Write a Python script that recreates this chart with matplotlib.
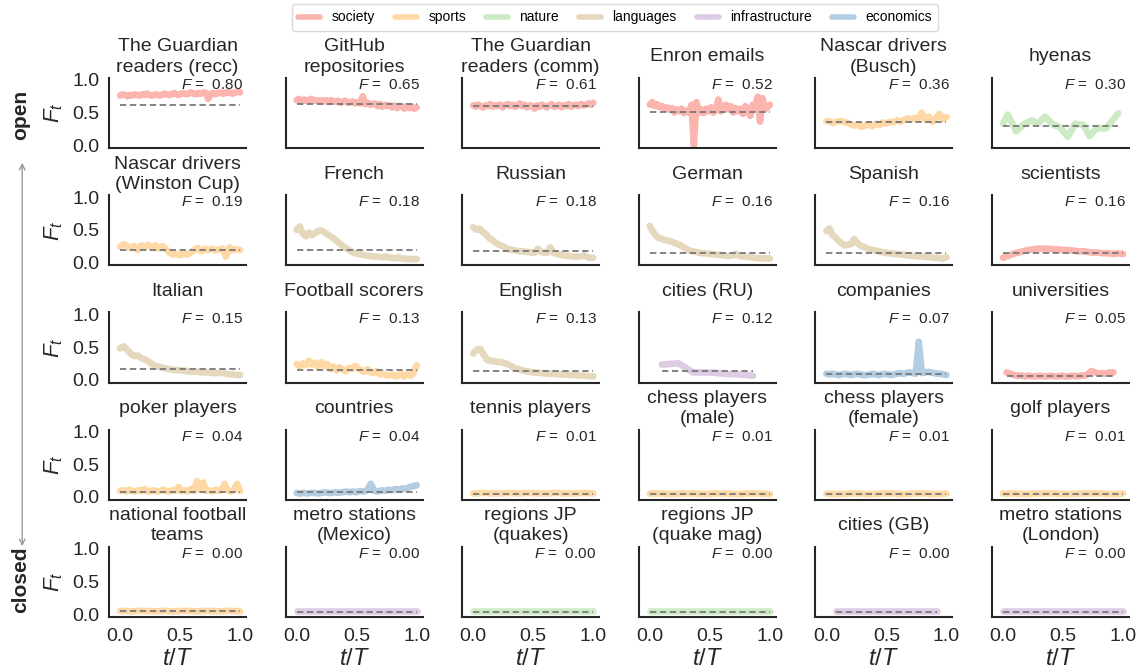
import numpy as np
import matplotlib
matplotlib.use("Agg")
import matplotlib.pyplot as plt
from matplotlib.lines import Line2D

plt.rcParams['font.family'] = ['Liberation Sans', 'DejaVu Sans']
plt.rcParams['mathtext.fontset'] = 'custom'
plt.rcParams['mathtext.rm'] = 'Liberation Sans'
plt.rcParams['mathtext.it'] = 'Liberation Sans:italic'
plt.rcParams['mathtext.bf'] = 'Liberation Sans:bold'

# category colours (Pastel1)
cat_names = ['society', 'sports', 'nature', 'languages', 'infrastructure', 'economics']
cat_colors = {'society': '#fbb4ae', 'sports': '#fed9a6', 'nature': '#ccebc5',
              'languages': '#e5d8bd', 'infrastructure': '#decbe4', 'economics': '#b3cde3'}

# ---- data ----
guardian_recc = [0.76, 0.78, 0.77, 0.75, 0.77, 0.76, 0.78, 0.77, 0.76, 0.78, 0.77, 0.79, 0.77, 0.76, 0.77,
                 0.78, 0.76, 0.77, 0.79, 0.78, 0.77, 0.78, 0.80, 0.78, 0.77, 0.79, 0.80, 0.78, 0.79, 0.81,
                 0.79, 0.78, 0.80, 0.79, 0.81, 0.80, 0.71, 0.79, 0.80, 0.78, 0.80, 0.81, 0.79, 0.80, 0.82,
                 0.80, 0.79, 0.81, 0.82, 0.81]
github = [0.69, 0.71, 0.67, 0.70, 0.68, 0.69, 0.71, 0.68, 0.69, 0.67, 0.69, 0.67, 0.69, 0.66, 0.69, 0.67,
          0.67, 0.68, 0.65, 0.67, 0.68, 0.65, 0.66, 0.67, 0.64, 0.66, 0.64, 0.75, 0.63, 0.65, 0.62, 0.63,
          0.64, 0.60, 0.63, 0.59, 0.62, 0.60, 0.61, 0.58, 0.61, 0.57, 0.60, 0.59, 0.56, 0.60, 0.57, 0.59,
          0.56, 0.58]
guardian_comm = [0.61, 0.59, 0.62, 0.60, 0.58, 0.61, 0.60, 0.63, 0.59, 0.61, 0.60, 0.62, 0.58, 0.61, 0.63,
                 0.60, 0.62, 0.59, 0.61, 0.64, 0.60, 0.62, 0.58, 0.61, 0.60, 0.56, 0.61, 0.59, 0.62, 0.60,
                 0.58, 0.61, 0.63, 0.59, 0.60, 0.62, 0.58, 0.61, 0.60, 0.63, 0.59, 0.61, 0.62, 0.60, 0.63,
                 0.61, 0.62, 0.64, 0.62, 0.65]
enron = [0.62, 0.66, 0.60, 0.63, 0.58, 0.60, 0.56, 0.58, 0.54, 0.57, 0.50, 0.55, 0.52, 0.56, 0.49, 0.53,
         0.50, 0.62, 0.00, 0.66, 0.50, 0.55, 0.49, 0.56, 0.52, 0.58, 0.50, 0.55, 0.70, 0.52, 0.58, 0.62,
         0.55, 0.60, 0.50, 0.57, 0.52, 0.56, 0.48, 0.60, 0.54, 0.45, 0.62, 0.58, 0.74, 0.36, 0.72, 0.55,
         0.58, 0.62]
busch = [0.37, 0.36, 0.34, 0.36, 0.37, 0.36, 0.34, 0.32, 0.30, 0.31, 0.28, 0.30, 0.32, 0.29, 0.33, 0.31,
         0.35, 0.33, 0.36, 0.35, 0.38, 0.36, 0.39, 0.41, 0.39, 0.42, 0.40, 0.50, 0.39, 0.44, 0.36, 0.41,
         0.48, 0.40, 0.43]
hyenas_t = [0.00, 0.04, 0.11, 0.18, 0.24, 0.29, 0.35, 0.42, 0.47, 0.54, 0.60, 0.67, 0.72, 0.78, 0.86, 0.96]
hyenas = [0.33, 0.47, 0.21, 0.33, 0.38, 0.33, 0.44, 0.31, 0.28, 0.13, 0.33, 0.31, 0.14, 0.26, 0.26, 0.49]

winston = [0.24, 0.28, 0.25, 0.22, 0.25, 0.19, 0.26, 0.23, 0.27, 0.22, 0.26, 0.21, 0.25, 0.20, 0.15, 0.12,
           0.13, 0.11, 0.13, 0.12, 0.15, 0.19, 0.22, 0.17, 0.21, 0.19, 0.21, 0.18, 0.20, 0.21, 0.09, 0.23,
           0.19, 0.20, 0.19]
french = [0.50, 0.55, 0.44, 0.40, 0.46, 0.42, 0.45, 0.48, 0.49, 0.46, 0.43, 0.40, 0.37, 0.33, 0.29, 0.25,
          0.22, 0.19, 0.16, 0.14, 0.13, 0.12, 0.11, 0.10, 0.10, 0.09, 0.09, 0.08, 0.08, 0.09, 0.07, 0.07,
          0.06, 0.08, 0.06, 0.06, 0.05, 0.05, 0.05, 0.05]
russian = [0.54, 0.50, 0.52, 0.47, 0.44, 0.38, 0.35, 0.31, 0.28, 0.26, 0.24, 0.21, 0.20, 0.19, 0.18, 0.17,
           0.17, 0.16, 0.16, 0.15, 0.15, 0.21, 0.16, 0.15, 0.15, 0.23, 0.15, 0.13, 0.12, 0.11, 0.10, 0.10,
           0.09, 0.09, 0.09, 0.09, 0.11, 0.08, 0.07, 0.07]
german = [0.56, 0.47, 0.41, 0.37, 0.36, 0.34, 0.33, 0.32, 0.30, 0.28, 0.26, 0.23, 0.20, 0.18, 0.17, 0.16,
          0.15, 0.14, 0.14, 0.13, 0.13, 0.12, 0.12, 0.11, 0.11, 0.10, 0.10, 0.11, 0.13, 0.10, 0.09, 0.09,
          0.08, 0.08, 0.07, 0.07, 0.06, 0.06, 0.06, 0.06]
spanish = [0.48, 0.52, 0.42, 0.38, 0.33, 0.29, 0.26, 0.27, 0.28, 0.36, 0.30, 0.26, 0.24, 0.22, 0.20, 0.19,
           0.18, 0.17, 0.16, 0.15, 0.14, 0.14, 0.13, 0.13, 0.12, 0.12, 0.11, 0.11, 0.10, 0.10, 0.09, 0.09,
           0.09, 0.08, 0.08, 0.07, 0.07, 0.06, 0.06, 0.08]
scientists = [0.07, 0.10, 0.13, 0.15, 0.17, 0.19, 0.20, 0.21, 0.21, 0.21, 0.20, 0.20, 0.19, 0.19, 0.18,
              0.17, 0.17, 0.16, 0.15, 0.15, 0.14, 0.14, 0.13, 0.14, 0.13]

italian = [0.48, 0.51, 0.46, 0.40, 0.36, 0.37, 0.33, 0.31, 0.28, 0.24, 0.21, 0.20, 0.18, 0.17, 0.16, 0.15,
           0.15, 0.14, 0.14, 0.13, 0.12, 0.12, 0.12, 0.11, 0.11, 0.11, 0.10, 0.10, 0.10, 0.11, 0.09, 0.08,
           0.08, 0.07, 0.07]
football = [0.24, 0.20, 0.25, 0.22, 0.29, 0.23, 0.26, 0.19, 0.27, 0.21, 0.24, 0.16, 0.20, 0.14, 0.19, 0.15,
            0.13, 0.18, 0.16, 0.21, 0.17, 0.14, 0.12, 0.16, 0.11, 0.10, 0.13, 0.08, 0.09, 0.07, 0.06, 0.08,
            0.05, 0.06, 0.09, 0.05, 0.08, 0.06, 0.10, 0.22]
english = [0.40, 0.46, 0.47, 0.38, 0.30, 0.29, 0.28, 0.27, 0.27, 0.25, 0.23, 0.20, 0.17, 0.16, 0.14, 0.13,
           0.12, 0.11, 0.11, 0.10, 0.10, 0.09, 0.09, 0.09, 0.08, 0.08, 0.08, 0.07, 0.07, 0.07, 0.06, 0.06,
           0.06, 0.05, 0.05]
cities_ru_t = [0.10, 0.24, 0.36, 0.50, 0.62, 0.74, 0.86]
cities_ru = [0.23, 0.25, 0.11, 0.11, 0.09, 0.08, 0.06]
companies = [0.09, 0.08, 0.09, 0.08, 0.07, 0.08, 0.09, 0.08, 0.07, 0.08, 0.09, 0.08, 0.07, 0.07, 0.08,
             0.09, 0.08, 0.07, 0.08, 0.09, 0.08, 0.07, 0.08, 0.09, 0.10, 0.09, 0.10, 0.11, 0.10, 0.09,
             0.58, 0.10, 0.11, 0.12, 0.11, 0.10, 0.09, 0.09, 0.08, 0.07]
universities = [0.11, 0.09, 0.07, 0.06, 0.06, 0.05, 0.06, 0.05, 0.05, 0.06, 0.05, 0.05, 0.06, 0.05, 0.05,
                0.06, 0.05, 0.05, 0.06, 0.05, 0.06, 0.06, 0.08, 0.13, 0.11, 0.09, 0.10, 0.09, 0.11, 0.11]

poker = [0.09, 0.10, 0.08, 0.11, 0.09, 0.08, 0.10, 0.09, 0.12, 0.08, 0.09, 0.10, 0.08, 0.09, 0.11, 0.09,
         0.08, 0.10, 0.09, 0.15, 0.09, 0.10, 0.08, 0.12, 0.09, 0.24, 0.10, 0.22, 0.09, 0.10, 0.08, 0.11,
         0.09, 0.10, 0.20, 0.09, 0.08, 0.10, 0.20, 0.09]
countries = [0.06, 0.05, 0.06, 0.05, 0.06, 0.06, 0.05, 0.06, 0.07, 0.06, 0.06, 0.07, 0.06, 0.07, 0.08,
             0.07, 0.08, 0.07, 0.09, 0.08, 0.10, 0.20, 0.09, 0.08, 0.10, 0.09, 0.11, 0.10, 0.12, 0.11,
             0.13, 0.12, 0.15, 0.16, 0.18]
tennis = [0.05, 0.06, 0.05, 0.05, 0.06, 0.05, 0.06, 0.05, 0.05, 0.06, 0.05, 0.05, 0.06, 0.05]
chess_male = [0.05, 0.05, 0.04, 0.05, 0.05, 0.04, 0.05, 0.05, 0.04, 0.05, 0.05, 0.04]
chess_female = [0.05, 0.04, 0.05, 0.05, 0.04, 0.05, 0.05, 0.04, 0.05, 0.05, 0.04, 0.05]
golf = [0.05, 0.05, 0.04, 0.05, 0.05, 0.05, 0.04, 0.05, 0.05, 0.05, 0.04, 0.05]

nat_football = [0.05, 0.04, 0.05, 0.04, 0.05, 0.04, 0.05, 0.04, 0.05, 0.04, 0.05, 0.04]
metro_mexico = [0.04, 0.04, 0.04, 0.04, 0.04, 0.04, 0.04, 0.04, 0.04, 0.04]
regions_quakes = [0.04, 0.04, 0.04, 0.04, 0.04, 0.04, 0.04, 0.04, 0.04, 0.04]
regions_mag = [0.04, 0.04, 0.04, 0.04, 0.04, 0.04, 0.04, 0.04, 0.04, 0.04]
cities_gb = [0.04, 0.04, 0.04, 0.04, 0.04, 0.04, 0.04, 0.04, 0.04, 0.04]
metro_london = [0.04, 0.04, 0.04, 0.04, 0.04, 0.04, 0.04, 0.04, 0.04, 0.04]

titles = ["The Guardian\nreaders (recc)", "GitHub\nrepositories", "The Guardian\nreaders (comm)",
          "Enron emails", "Nascar drivers\n(Busch)", "hyenas",
          "Nascar drivers\n(Winston Cup)", "French", "Russian", "German", "Spanish", "scientists",
          "Italian", "Football scorers", "English", "cities (RU)", "companies", "universities",
          "poker players", "countries", "tennis players", "chess players\n(male)",
          "chess players\n(female)", "golf players",
          "national football\nteams", "metro stations\n(Mexico)", "regions JP\n(quakes)",
          "regions JP\n(quake mag)", "cities (GB)", "metro stations\n(London)"]
categories = ['society', 'society', 'society', 'society', 'sports', 'nature',
              'sports', 'languages', 'languages', 'languages', 'languages', 'society',
              'languages', 'sports', 'languages', 'infrastructure', 'economics', 'society',
              'sports', 'economics', 'sports', 'sports', 'sports', 'sports',
              'sports', 'infrastructure', 'nature', 'nature', 'infrastructure', 'infrastructure']
F_values = [0.80, 0.65, 0.61, 0.52, 0.36, 0.30,
            0.19, 0.18, 0.18, 0.16, 0.16, 0.16,
            0.15, 0.13, 0.13, 0.12, 0.07, 0.05,
            0.04, 0.04, 0.01, 0.01, 0.01, 0.01,
            0.00, 0.00, 0.00, 0.00, 0.00, 0.00]
null_levels = [0.615, 0.626, 0.60, 0.51, 0.36, 0.30,
               0.19, 0.19, 0.18, 0.15, 0.15, 0.15,
               0.16, 0.14, 0.13, 0.13, 0.09, 0.06,
               0.07, 0.07, 0.05, 0.04, 0.04, 0.04,
               0.04, 0.03, 0.03, 0.03, 0.03, 0.03]
series = [guardian_recc, github, guardian_comm, enron, busch, hyenas,
          winston, french, russian, german, spanish, scientists,
          italian, football, english, cities_ru, companies, universities,
          poker, countries, tennis, chess_male, chess_female, golf,
          nat_football, metro_mexico, regions_quakes, regions_mag, cities_gb, metro_london]
# time axis of each series: explicit list or (start, end) of an even grid
times = {5: hyenas_t, 15: cities_ru_t}
spans = {17: (0.03, 0.92), 28: (0.08, 0.92)}

fig, axes = plt.subplots(5, 6, figsize=(11.4, 6.68), dpi=100,
                         gridspec_kw=dict(left=0.0956, right=0.9904, top=0.8832, bottom=0.0763,
                                          wspace=0.288, hspace=0.671))

for i, ax in enumerate(axes.flat):
    y = np.array(series[i])
    if i in times:
        t = np.array(times[i])
    else:
        a, b = spans.get(i, (0.0, 1.0))
        t = np.linspace(a, b, len(y))
    col = cat_colors[categories[i]]
    ax.plot(t, y, color=col, lw=4.8, solid_capstyle='round', solid_joinstyle='round', zorder=2)
    ax.plot([t[0], t[-1]], [null_levels[i]] * 2, color='#7a7a7a', lw=1.3, ls=(0, (3.5, 2)), zorder=3)

    ax.set_xlim(-0.092, 1.05)
    ax.set_ylim(-0.046, 1.03)
    ax.set_xticks([0.0, 0.5, 1.0])
    ax.set_yticks([0.0, 0.5, 1.0])
    for s in ['top', 'right']:
        ax.spines[s].set_visible(False)
    for s in ['left', 'bottom']:
        ax.spines[s].set_color('#262626')
        ax.spines[s].set_linewidth(1.5)
    ax.tick_params(length=0, labelsize=14, colors='#262626')
    ax.tick_params(axis='x', pad=8)
    ax.tick_params(axis='y', pad=7)
    r, c = divmod(i, 6)
    if c == 0:
        ax.set_yticklabels(['0.0', '0.5', '1.0'])
        ax.set_ylabel(r'$F_t$', fontsize=16, color='#262626', labelpad=5)
    else:
        ax.set_yticklabels([])
    if r == 4:
        ax.set_xticklabels(['0.0', '0.5', '1.0'])
        ax.set_xlabel(r'$t/T$', fontsize=17, color='#262626', labelpad=2)
    else:
        ax.set_xticklabels([])

    ax.text(0.5, 1.30, titles[i], transform=ax.transAxes, ha='center', va='center',
            fontsize=14, color='#262626', linespacing=1.25)
    ax.text(0.98, 0.90, r'$F$ =  ' + f'{F_values[i]:.2f}', transform=ax.transAxes,
            ha='right', va='center', fontsize=11, color='#262626')

# legend
handles = [Line2D([0], [0], color=cat_colors[n], lw=4, solid_capstyle='round') for n in cat_names]
fig.legend(handles, cat_names, loc='center', bbox_to_anchor=(0.5395, 0.974), ncol=6,
           fontsize=10, frameon=True, handlelength=1.6, columnspacing=1.45, handletextpad=0.8,
           borderpad=0.45, edgecolor='#d0d0d0', fancybox=True)

# open / closed
fig.text(0.018, 1 - 115 / 668, 'open', rotation=90, ha='center', va='center',
         fontsize=15, fontweight='bold', color='#262626')
fig.text(0.018, 1 - 580 / 668, 'closed', rotation=90, ha='center', va='center',
         fontsize=15, fontweight='bold', color='#262626')
fig.add_artist(matplotlib.patches.FancyArrowPatch((0.0195, 1 - 160 / 668), (0.0195, 1 - 549 / 668),
                                                  transform=fig.transFigure, arrowstyle='<->',
                                                  mutation_scale=10, color='#999999', lw=1.0))

fig.savefig('out.png', dpi=100)
